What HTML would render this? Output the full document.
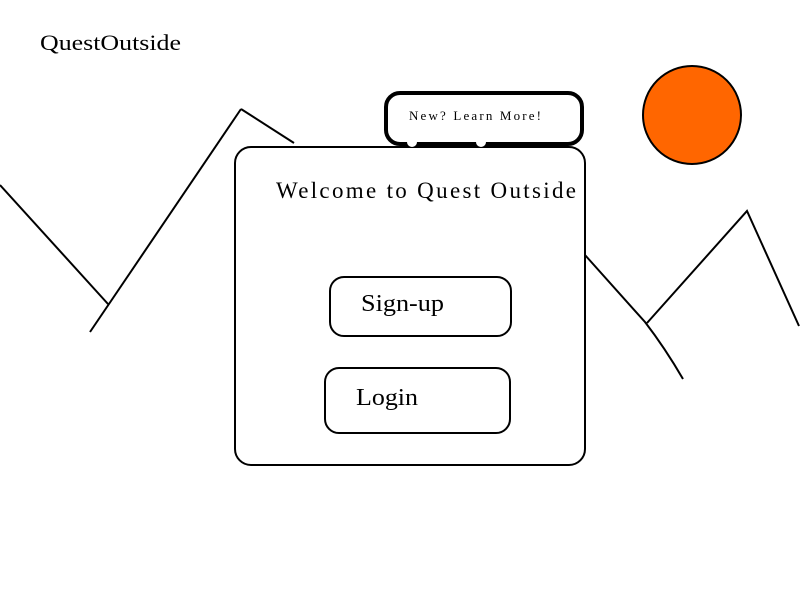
<!DOCTYPE html>
<html><head><style>
body{margin:0;background:#fff;}
svg{display:block;font-family:"Liberation Serif",serif;}
</style></head><body>
<svg width="800" height="600" viewBox="0 0 800 600">
<rect width="800" height="600" fill="#fff"/>
<text x="40" y="50" font-size="22" textLength="141" lengthAdjust="spacingAndGlyphs">QuestOutside</text>
<g stroke="#000" stroke-width="2" fill="none">
<line x1="0" y1="185" x2="108" y2="304"/>
<line x1="90" y1="332" x2="241" y2="109"/>
<line x1="241" y1="109" x2="294" y2="143"/>
<path d="M585 255 L645 322 Q665 348 683 379"/>
<polyline points="647,323 747,211 799,326"/>
</g>
<circle cx="692" cy="115" r="49" fill="#ff6600" stroke="#000" stroke-width="2"/>
<rect x="235" y="147" width="350" height="318" rx="16" fill="#fff" stroke="#000" stroke-width="2"/>
<rect x="386" y="93" width="196" height="51" rx="14" fill="#fff" stroke="#000" stroke-width="4"/>
<circle cx="412" cy="142" r="5" fill="#fff"/>
<circle cx="481" cy="142" r="5" fill="#fff"/>
<text x="409" y="120" font-size="13" textLength="132" lengthAdjust="spacing">New?  Learn  More!</text>
<text x="276" y="198" font-size="23" textLength="300" lengthAdjust="spacing">Welcome to Quest Outside</text>
<rect x="330" y="277" width="181" height="59" rx="14" fill="#fff" stroke="#000" stroke-width="2"/>
<text x="361" y="311" font-size="24" textLength="83" lengthAdjust="spacingAndGlyphs">Sign-up</text>
<rect x="325" y="368" width="185" height="65" rx="14" fill="#fff" stroke="#000" stroke-width="2"/>
<text x="356" y="405" font-size="24" textLength="62" lengthAdjust="spacingAndGlyphs">Login</text>
</svg>
</body></html>
